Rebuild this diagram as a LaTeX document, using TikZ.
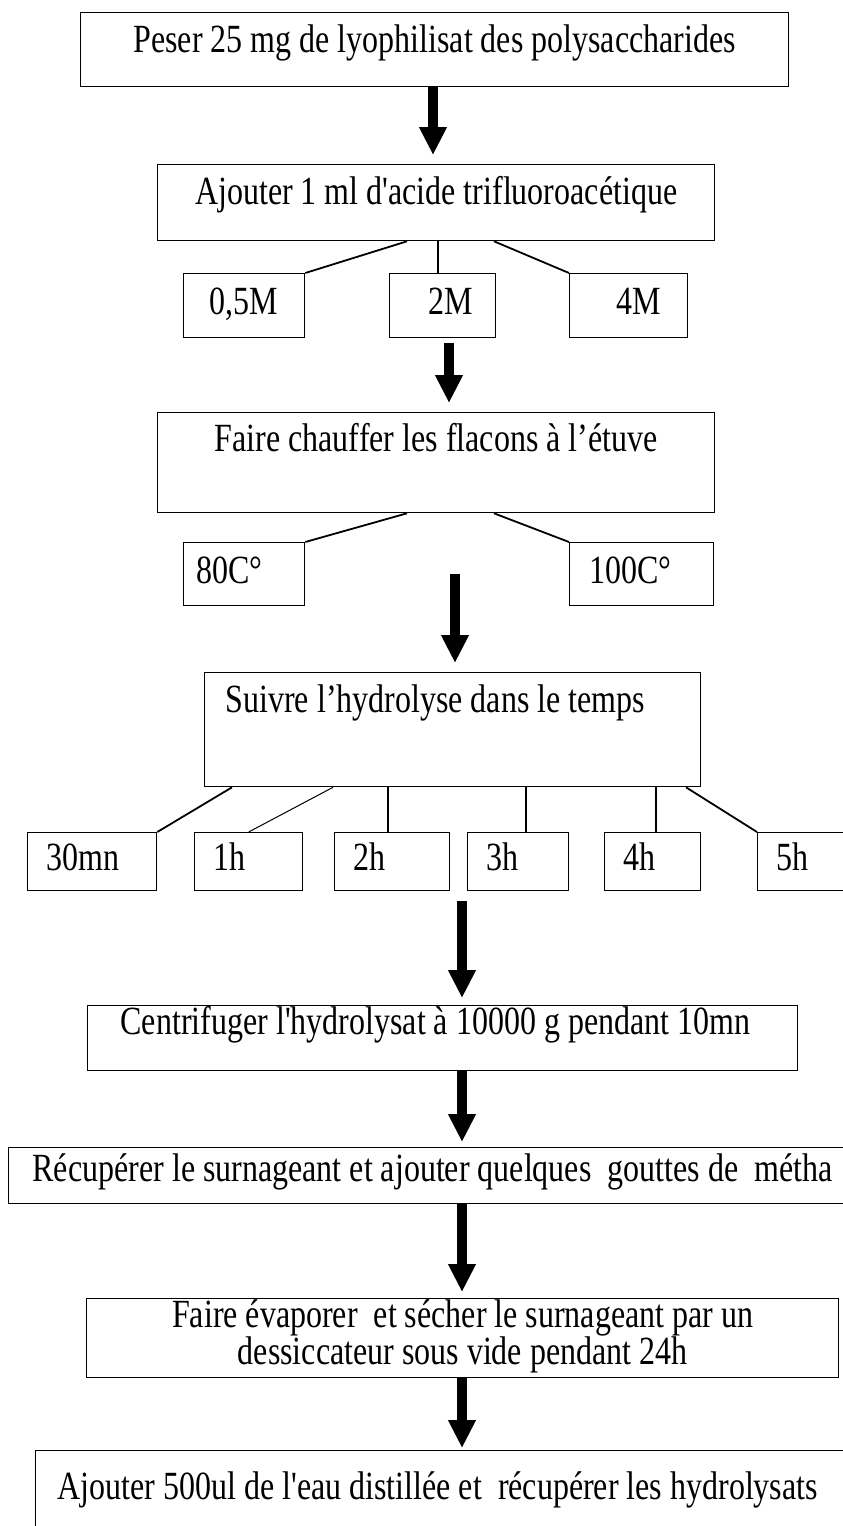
\documentclass[tikz,border=0pt]{standalone}
\usepackage{graphicx}
\usepackage{fontspec}
\setmainfont{Liberation Serif}[Ligatures=TeXOff]
\usetikzlibrary{arrows.meta}

\newcommand{\haut}[1]{\smash{\scalebox{1}[1.25]{#1}}}

\begin{document}
\begin{tikzpicture}[x=1pt,y=-1pt,
  box/.style={draw,line width=1.3pt,rectangle,inner sep=0pt,anchor=north west,
    font=\fontsize{32}{32}\selectfont,text height=27pt,text depth=9pt},
  hour/.style={box,align=flush left,inner xsep=19pt,minimum height=58pt},
  flow/.style={line width=10pt,-{Triangle[width=26pt,length=28pt]},shorten >=9pt},
  branch/.style={line width=1.8pt}]

\useasboundingbox (0,0) rectangle (843,1526);
\clip (0,0) rectangle (843,1526);

\node[box,minimum width=708pt,minimum height=74pt,text depth=21pt] (peser) at (80,12) {\haut{Peser 25 mg de lyophilisat des polysaccharides}};

\node[box,minimum width=557pt,minimum height=76pt,text depth=23pt] (ajout) at (157,164) {\haut{Ajouter 1 ml d'acide trifluoroacétique}};
\draw[flow] (peser.south -| 433,0) -- (ajout.north -| 433,0);

\node[box,minimum width=121pt,minimum height=64pt] (m05) at (183,273) {\haut{0,5M}};
\node[box,minimum width=106pt,minimum height=64pt] (m2) at (389,273) {\hspace*{16pt}\haut{2M}};
\node[box,minimum width=118pt,minimum height=64pt] (m4) at (569,273) {\hspace*{20pt}\haut{4M}};

\draw[branch] (ajout.south -| 407,0) -- (m05.north east);
\draw[branch] (ajout.south -| 438,0) -- (m2.north -| 438,0);
\draw[branch] (ajout.south -| 494,0) -- (m4.north west);

\node[box,minimum width=557pt,minimum height=100pt,text depth=49pt] (chauf) at (157,412) {\haut{Faire chauffer les flacons à l’étuve}};
\draw[flow,shorten <=5pt] (m2.south -| 449,0) -- (chauf.north -| 449,0);

\node[box,minimum width=121pt,minimum height=63pt] (t80) at (183,542) {\haut{80C°}\hspace*{30pt}};
\node[box,minimum width=144pt,minimum height=63pt] (t100) at (569,542) {\haut{100C°}\hspace*{22pt}};

\draw[branch] (chauf.south -| 407,0) -- (t80.north east);
\draw[branch] (chauf.south -| 494,0) -- (t100.north west);

\node[box,text width=454pt,align=flush left,inner xsep=21pt,minimum height=114pt,text depth=61pt] (suivre) at (204,672) {\haut{Suivre l’hydrolyse dans le temps}};
\draw[flow] (t80.center -| 455,0) -- (suivre.north -| 455,0);

% temps de prelevement
\node[hour,text width=91pt] (h30) at (27,832) {\haut{30mn}};
\node[hour,text width=70pt] (h1) at (194,832) {\haut{1h}};
\node[hour,text width=77pt] (h2) at (334,832) {\haut{2h}};
\node[hour,text width=63pt] (h3) at (467,832) {\haut{3h}};
\node[hour,text width=58pt] (h4) at (604,832) {\haut{4h}};
\node[hour,text width=105pt] (h5) at (757,832) {\haut{5h}};

\draw[branch] (suivre.south -| 232,0) -- (h30.north east);
\draw[line width=1pt] (suivre.south -| 333,0) -- (h1.north);
\draw[branch] (suivre.south -| 388,0) -- (h2.north -| 388,0);
\draw[branch] (suivre.south -| 526,0) -- (h3.north -| 526,0);
\draw[branch] (suivre.south -| 656,0) -- (h4.north -| 656,0);
\draw[branch] (suivre.south -| 686,0) -- (h5.north west);

\node[box,text width=644pt,align=flush left,inner xsep=33pt,minimum height=65pt,text depth=34pt] (centri) at (87,1005) {\haut{Centrifuger l'hydrolysat à 10000 g pendant 10mn}};
\draw[flow,shorten <=10pt,shorten >=7pt] (h3.south -| 462,0) -- (centri.north -| 462,0);

\node[box,text width=843pt,align=flush left,inner xsep=24pt,minimum height=56pt,text depth=15pt] (recup) at (8,1147) {\haut{Récupérer le surnageant et ajouter quelques\ \ gouttes de\ \ métha}};
\draw[flow,shorten >=5pt] (centri.south -| 462,0) -- (recup.north -| 462,0);

\node[box,minimum width=752pt,minimum height=79pt,align=flush center,
  text height=58pt,text depth=6pt] (evap) at (86,1298)
  {\haut{Faire évaporer\ \ et sécher le surnageant par un}\\[5pt]\haut{dessiccateur sous vide pendant 24h}};
\draw[flow,shorten >=6pt] (recup.south -| 462,0) -- (evap.north -| 462,0);

\node[box,text width=856pt,align=flush left,inner xsep=22pt,minimum height=150pt,text depth=79pt] (ajeau) at (35,1450) {\haut{Ajouter 500ul de l'eau distillée et\ \ récupérer les hydrolysats}};
\draw[flow,shorten >=2pt] (evap.south -| 462,0) -- (ajeau.north -| 462,0);

\end{tikzpicture}
\end{document}
